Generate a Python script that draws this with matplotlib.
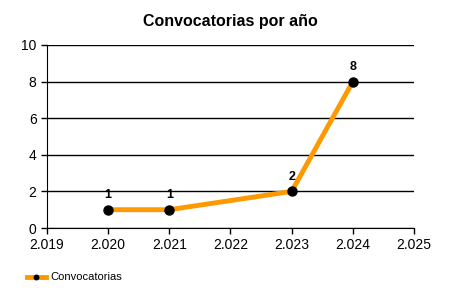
import matplotlib.pyplot as plt
from matplotlib.ticker import FuncFormatter, MultipleLocator

plt.rcParams['font.family'] = ['Liberation Sans', 'DejaVu Sans']

# data
years = [2020, 2021, 2023, 2024]
counts = [1, 1, 2, 8]

fig = plt.figure(figsize=(4.5, 3), dpi=100)
ax = fig.add_axes([0.1044, 0.24, 0.8156, 0.61])

line, = ax.plot(years, counts, color='#FF9900', lw=3.5, marker='o',
                markersize=6.5, markerfacecolor='black', markeredgecolor='black',
                label='Convocatorias', zorder=3)

for x, y in zip(years, counts):
    ax.annotate(str(y), (x, y), xytext=(0, 6), textcoords='offset points',
                ha='center', va='bottom', fontsize=9, fontweight='bold')

ax.set_xlim(2019, 2025)
ax.set_ylim(0, 10)
ax.xaxis.set_major_locator(MultipleLocator(1))
ax.yaxis.set_major_locator(MultipleLocator(2))
ax.xaxis.set_major_formatter(FuncFormatter(lambda v, p: f"{int(v):,}".replace(',', '.')))
ax.grid(axis='y', color='black', lw=1)
ax.set_axisbelow(True)
for s in ['top', 'right']:
    ax.spines[s].set_visible(False)
ax.tick_params(labelsize=10, length=4, width=1)
ax.set_title('Convocatorias por año', fontsize=11.5, fontweight='bold', pad=14)

fig.legend(handles=[line], loc='center left', bbox_to_anchor=(0.047, 0.075),
           frameon=False, fontsize=8, handlelength=1.7, markerscale=0.5,
           handletextpad=0.4, borderpad=0)

fig.savefig('out.png', dpi=100)
